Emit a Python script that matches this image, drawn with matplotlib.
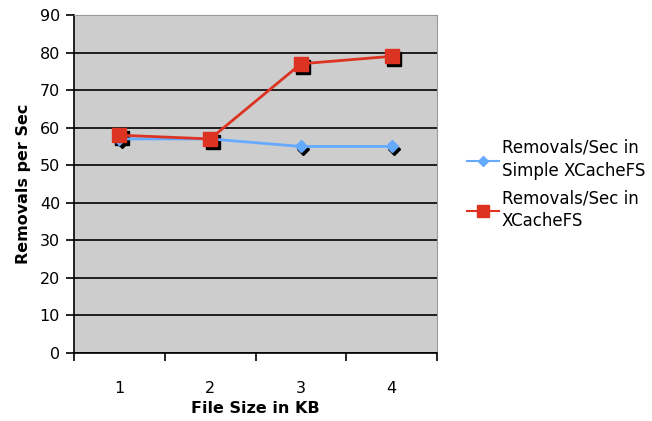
import numpy as np
import matplotlib
matplotlib.use("Agg")
import matplotlib.pyplot as plt
import matplotlib.transforms as mtransforms

# data
file_sizes = ["1", "2", "3", "4"]
simple_xcache = [57, 57, 55, 55]
xcache = [58, 57, 77, 79]

plt.rcParams['font.family'] = ['DejaVu Sans']

fig = plt.figure(figsize=(6.52, 4.21), dpi=100)
ax = fig.add_axes([74 / 652, 68 / 421, 363 / 652, 338 / 421])
ax.set_facecolor("#cdcdcd")

x = np.arange(1, len(file_sizes) + 1)

# drop shadows under the markers
shadow = mtransforms.offset_copy(ax.transData, fig=fig, x=2.5, y=-3, units='dots')
ax.plot(x, simple_xcache, ls='none', marker='D', ms=6, color='black', transform=shadow, zorder=3)
ax.plot(x, xcache, ls='none', marker='s', ms=10, color='black', transform=shadow, zorder=3)

ax.plot(x, simple_xcache, color='#66aaff', marker='D', ms=6, lw=2,
        label='Removals/Sec in\nSimple XCacheFS', zorder=4)
ax.plot(x, xcache, color='#dd3322', marker='s', ms=10, lw=2,
        label='Removals/Sec in\nXCacheFS', zorder=5)

ax.set_ylim(0, 90)
ax.set_yticks(np.arange(0, 91, 10))
ax.yaxis.grid(True, color='black', lw=1.2)
ax.set_axisbelow(True)

ax.set_xlim(0.5, 4.5)
ax.set_xticks(np.arange(0.5, 4.6, 1.0))
ax.set_xticklabels([])
ax.set_xticks(x, minor=True)
ax.set_xticklabels(file_sizes, minor=True)
ax.tick_params(axis='x', which='minor', length=0, pad=20, labelsize=11.5)
ax.tick_params(axis='x', which='major', length=6, width=1.2, direction='out')
ax.tick_params(axis='y', length=6, width=1.2, labelsize=11.5, pad=4)

for side in ['top', 'right']:
    ax.spines[side].set_color('#999999')
for side in ['left', 'bottom']:
    ax.spines[side].set_color('black')
    ax.spines[side].set_linewidth(1.2)

ax.set_xlabel('File Size in KB', fontsize=11.5, fontweight='bold', labelpad=4)
ax.set_ylabel('Removals per Sec', fontsize=11.5, fontweight='bold', labelpad=6)

leg = fig.legend(loc='upper left', bbox_to_anchor=(467 / 652, 1 - 139 / 421), frameon=False,
                 fontsize=12, handlelength=1.9, handletextpad=0.2, labelspacing=0.55,
                 borderpad=0, borderaxespad=0, markerscale=0.8)
for line in leg.get_lines():
    line.set_linewidth(1.5)
for t in leg.get_texts():
    t.set_linespacing(1.35)

fig.savefig('out.png', dpi=100)
